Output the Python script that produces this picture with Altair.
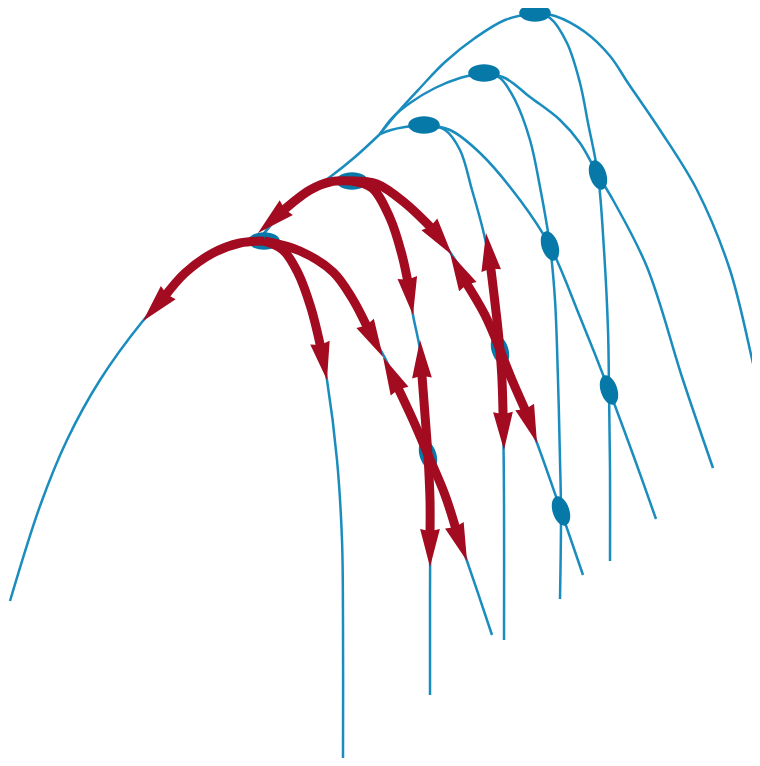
import math
import altair as alt
import pandas as pd

# ---------------- blue arcs (x, y) ; y grows downward ----------------
stem      = [(10, 601), (40, 506), (67, 440), (100, 380), (142, 322), (167, 294),
             (185, 273), (213, 253), (240, 243), (264, 241)]
upper_stem = [(380, 134), (355, 157), (330, 177), (308, 192), (287, 207), (262, 236)]
a5_left   = [(535, 13), (505, 20), (475, 38), (445, 62), (420, 88), (398, 112), (380, 134)]
a4_left   = [(484, 73), (460, 78), (435, 88), (410, 103), (392, 118), (380, 134)]
a3_left   = [(424, 125), (405, 127), (391, 130), (380, 134)]
a2_left   = [(352, 181), (330, 182), (310, 190), (287, 207), (262, 236)]
a1_inner  = [(264, 241), (283, 250), (298, 273), (311, 308), (320, 343), (327, 380),
             (337, 460), (342, 540), (343, 620), (343, 765)]
a1_outer  = [(264, 241), (300, 251), (333, 272), (352, 298), (367, 327), (385, 358),
             (405, 402), (428, 455), (447, 505), (467, 561), (492, 635)]
a2_inner  = [(352, 181), (372, 188), (390, 218), (402, 255), (408, 282), (413, 315),
             (420, 350), (424, 400), (428, 455), (430, 530), (430, 600), (430, 695)]
a2_outer  = [(352, 181), (377, 184), (405, 203), (432, 228), (452, 255), (473, 290),
             (500, 350), (520, 400), (537, 443), (561, 511), (583, 575)]
a3_inner  = [(424, 125), (445, 130), (460, 150), (472, 190), (483, 230), (491, 269),
             (497, 320), (500, 350), (503, 420), (504, 500), (504, 640)]
a3_outer  = [(424, 125), (450, 130), (480, 153), (520, 200), (550, 246), (580, 317),
             (609, 390), (635, 460), (656, 519)]
a4_inner  = [(484, 73), (500, 78), (515, 100), (530, 140), (540, 187), (550, 246),
             (555, 300), (558, 380), (560, 460), (561, 511), (560, 599)]
a4_outer  = [(484, 73), (505, 78), (530, 97), (560, 120), (580, 143), (598, 175),
             (613, 200), (647, 267), (683, 380), (713, 468)]
a5_inner  = [(535, 13), (550, 18), (567, 43), (580, 83), (588, 123), (598, 175),
             (604, 250), (608, 330), (609, 390), (610, 470), (610, 561)]
a5_outer  = [(535, 13), (555, 16), (585, 32), (610, 56), (628, 83), (660, 130),
             (697, 190), (730, 270), (757, 380), (768, 420)]

blue_curves = {
    "stem": stem, "upper_stem": upper_stem, "a5_left": a5_left, "a4_left": a4_left,
    "a3_left": a3_left, "a2_left": a2_left, "a1_inner": a1_inner, "a1_outer": a1_outer,
    "a2_inner": a2_inner, "a2_outer": a2_outer, "a3_inner": a3_inner,
    "a3_outer": a3_outer, "a4_inner": a4_inner, "a4_outer": a4_outer,
    "a5_inner": a5_inner, "a5_outer": a5_outer,
}

# ---------------- nodes ----------------
apex_nodes  = [(264, 241), (352, 181), (424, 125), (484, 73), (535, 13)]
cross_nodes = [(598, 175), (550, 246), (500, 350), (428, 455), (609, 390), (561, 511)]

# ---------------- red arrows: path points, last one is the tip ----------------
red_arrows = {
    "r1":  [(264, 241), (240, 243), (213, 253), (185, 273), (167, 294), (143, 321)],
    "r2":  [(264, 241), (283, 250), (298, 273), (311, 308), (320, 343), (327, 380)],
    "r3":  [(264, 241), (300, 251), (333, 272), (352, 298), (367, 327), (383, 357)],
    "r4":  [(352, 181), (330, 182), (310, 190), (287, 207), (258, 233)],
    "r5":  [(352, 181), (372, 188), (390, 218), (402, 255), (408, 282), (413, 315)],
    "r6":  [(352, 181), (377, 184), (405, 203), (432, 228), (452, 255)],
    "r7":  [(500, 350), (497, 320), (491, 269), (486, 233)],
    "r8":  [(500, 350), (485, 315), (467, 285), (450, 253)],
    "r9":  [(500, 350), (502, 380), (503, 413), (504, 450)],
    "r10": [(500, 350), (512, 380), (525, 408), (537, 443)],
    "r11": [(428, 455), (425, 415), (422, 379), (420, 340)],
    "r12": [(428, 455), (413, 420), (400, 392), (383, 357)],
    "r13": [(428, 455), (430, 500), (430, 532), (430, 567)],
    "r14": [(428, 455), (445, 495), (455, 527), (467, 561)],
}

BLUE_LINE = "#1a8cbe"
BLUE_NODE = "#0679a9"
RED = "#a20b20"
HEAD_LEN = 38.0

# ---------------- build tables ----------------
blue_rows = []
for name, pts in blue_curves.items():
    for i, (x, y) in enumerate(pts):
        blue_rows.append({"curve": name, "i": i, "x": x, "y": y})
blue_df = pd.DataFrame(blue_rows)

node_rows = [{"x": x, "y": y, "ang": 0, "kind": "apex"} for x, y in apex_nodes]
node_rows += [{"x": x, "y": y, "ang": 72, "kind": "cross"} for x, y in cross_nodes]
node_df = pd.DataFrame(node_rows)

shaft_rows, head_rows = [], []
for name, pts in red_arrows.items():
    (bx, by), (tx, ty) = pts[-2], pts[-1]
    dx, dy = tx - bx, ty - by
    n = math.hypot(dx, dy)
    ux, uy = dx / n, dy / n
    shaft = pts[:-2] + [(tx - 0.8 * HEAD_LEN * ux, ty - 0.8 * HEAD_LEN * uy)]
    for i, (x, y) in enumerate(shaft):
        shaft_rows.append({"arrow": name, "i": i, "x": x, "y": y})
    ang = math.degrees(math.atan2(dx, -dy)) % 360
    head_rows.append({"arrow": name, "x": tx - 0.5 * HEAD_LEN * ux,
                      "y": ty - 0.5 * HEAD_LEN * uy, "ang": ang})
shaft_df = pd.DataFrame(shaft_rows)
head_df = pd.DataFrame(head_rows)

W, H = 744, 750
xs = alt.Scale(domain=[8, 8 + W], nice=False, zero=False)
ys = alt.Scale(domain=[8, 8 + H], nice=False, zero=False, reverse=True)
X = alt.X("x:Q", scale=xs, axis=None)
Y = alt.Y("y:Q", scale=ys, axis=None)

blue = alt.Chart(blue_df).mark_line(
    interpolate="catmull-rom", color=BLUE_LINE, strokeWidth=2.5
).encode(x=X, y=Y, detail="curve:N", order="i:Q")

# ellipse (rx = 1, ry = 0.55) made of cubic curves
ellipse = ("M-1,0C-1,-0.304,-0.552,-0.55,0,-0.55C0.552,-0.55,1,-0.304,1,0"
           "C1,0.304,0.552,0.55,0,0.55C-0.552,0.55,-1,0.304,-1,0Z")
nodes_apex = alt.Chart(node_df[node_df.kind == "apex"]).mark_point(
    shape=ellipse, filled=True, color=BLUE_NODE, opacity=1, size=1000, strokeWidth=0
).encode(x=X, y=Y, angle=alt.Angle("ang:Q", scale=None))
nodes_cross = alt.Chart(node_df[node_df.kind == "cross"]).mark_point(
    shape=ellipse, filled=True, color=BLUE_NODE, opacity=1, size=920, strokeWidth=0
).encode(x=X, y=Y, angle=alt.Angle("ang:Q", scale=None))

shafts = alt.Chart(shaft_df).mark_line(
    interpolate="catmull-rom", color=RED, strokeWidth=9, strokeCap="butt"
).encode(x=X, y=Y, detail="arrow:N", order="i:Q")

arrow_shape = "M0,-1L0.52,1L0,0.88L-0.52,1Z"
heads = alt.Chart(head_df).mark_point(
    shape=arrow_shape, filled=True, color=RED, opacity=1,
    size=HEAD_LEN * HEAD_LEN, strokeWidth=0
).encode(x=X, y=Y, angle=alt.Angle("ang:Q", scale=None))

chart = alt.layer(blue, nodes_apex, nodes_cross, shafts, heads).properties(
    width=W, height=H, autosize=alt.AutoSizeParams(type="none"),
    padding=0, background="white"
).configure_view(stroke=None)

chart.save("out.html", embed_options={"renderer": "svg", "actions": False})
